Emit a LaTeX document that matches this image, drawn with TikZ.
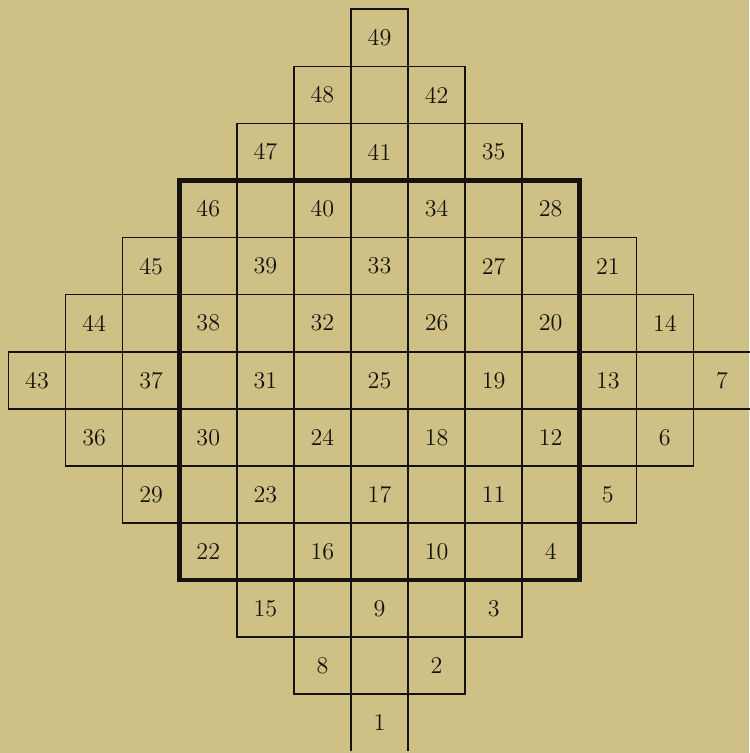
\documentclass[tikz,border=0pt]{standalone}
\usepackage{xcolor}
\usepackage{tikz}

\definecolor{paper}{RGB}{207,192,134}
\definecolor{ink}{RGB}{22,19,14}

\begin{document}
\begin{tikzpicture}[
  x=1cm, y=1cm,
  num/.style={rectangle, inner sep=0pt, outer sep=0pt, minimum size=1cm,
              text=ink, font=\large},
  cell/.style={num, draw=ink, line width=0.8pt},
  rim/.style={draw=ink, line width=0.8pt},
  frame/.style={draw=ink, line width=2.4pt, line join=miter}
]
\useasboundingbox[fill=paper] (-0.649,0.663) rectangle (12.48,-12.53);
% numbered cells, laid out along the diagonals
\foreach \k in {1,...,6}
  \foreach \j in {0,...,6} {
    \pgfmathtruncatemacro\n{7*\k+\j+1}
    \node[cell] (n\n) at ({6-\k+\j},{-(12-\k-\j)}) {\n};
  }
\foreach \j in {1,...,5} {
  \pgfmathtruncatemacro\n{\j+1}
  \node[cell] (n\n) at ({6+\j},{-(12-\j)}) {\n};
}
% empty cells in between
\foreach \k in {0,...,5}
  \foreach \j in {0,...,5}
    \node[cell] (e\k\j) at ({6-\k+\j},{-(11-\k-\j)}) {};
% the two open end cells
\node[num] (n1) at (6,-12) {1};
\node[num] (n7) at (12,-6) {7};
\draw[rim] (n1.south west) |- (n1.north east) -- (n1.south east);
\draw[rim] (n7.north east) -| (n7.south west) -- (n7.south east);
% the square
\draw[frame] (n46.north west) rectangle (n4.south east);
\end{tikzpicture}
\end{document}
